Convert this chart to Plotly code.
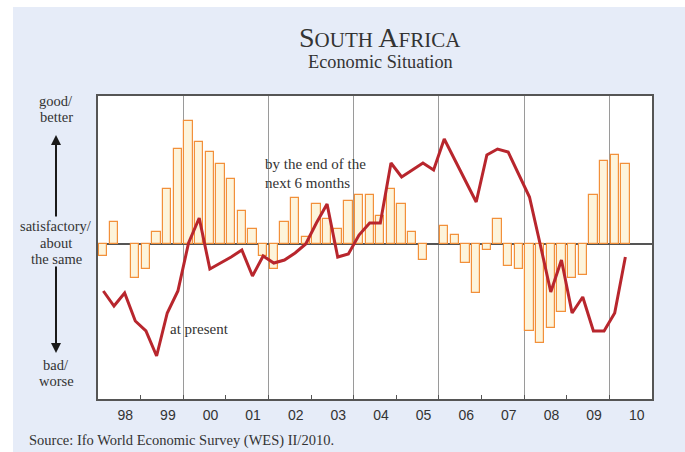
import plotly.graph_objects as go

# Quarterly survey balances, 1998Q1 - 2010Q2
years = list(range(1998, 2011))
year_labels = ["98", "99", "00", "01", "02", "03", "04", "05", "06", "07", "08", "09", "10"]

# Expectations for the next 6 months (bars)
expectations = [
    -12, 22, None, -34,
    -25, 12, 55, 95,
    123, 102, 92, 80,
    65, 33, 15, -12,
    -25, 22, 46, 7,
    40, 25, 15, 43,
    49, 49, 28, 55,
    40, 12, -16, None,
    18, 9, -19, -49,
    -6, 25, -22, -25,
    -87, -99, -84, -68,
    -34, -31, 49, 83,
    89, 80,
]

# Assessment of the present situation (line)
present = [
    -47, -62, -49, -77,
    -87, -112, -69, -47,
    1, 26, -25, -19,
    -13, -6, -32, -12,
    -19, -16, -9, 0,
    21, 40, -13, -10,
    9, 21, 21, 81,
    67, 74, 81, 74,
    105, 84, 63, 42,
    89, 95, 92, 69,
    47, 0, -48, -16,
    -69, -53, -87, -87,
    -69, -13,
]

quarter_x = [1998 + (i + 0.5) / 4 for i in range(len(present))]

W, H = 685, 452
L, R, T, B = 98, 652, 96, 399


def px(xp):
    return (xp - L) / (R - L)


def py(yp):
    return (B - yp) / (B - T)


SERIF = "Liberation Serif"
SANS = "Liberation Sans"
TXT = "#333333"

fig = go.Figure()

fig.add_trace(go.Bar(
    x=quarter_x, y=expectations, width=0.195,
    marker=dict(color="#fdf4db", line=dict(color="#f2903a", width=1.2)),
    showlegend=False,
))

fig.add_trace(go.Scatter(
    x=quarter_x, y=present, mode="lines",
    line=dict(color="#b8262d", width=3),
    showlegend=False,
))

# invisible trace carrying the year labels axis
fig.add_trace(go.Scatter(x=[1998, 2011], y=[0, 0], xaxis="x2", mode="none",
                         showlegend=False, hoverinfo="skip"))


def note(text, x, y, size, xanchor="center", align="center"):
    return dict(text=text, x=px(x), y=py(y), xref="paper", yref="paper",
                xanchor=xanchor, yanchor="middle", align=align, showarrow=False,
                font=dict(family=SERIF, size=size, color=TXT))


def arrow(x, y_head, dy_tail):
    return dict(text="", x=px(x), y=py(y_head), xref="paper", yref="paper", showarrow=True,
                ax=0, ay=dy_tail, arrowhead=2, arrowsize=1, arrowwidth=2, arrowcolor="#1a1a1a")


annotations = [
    note("S<span style='font-size:21px'>OUTH</span> A<span style='font-size:21px'>FRICA</span>",
         380, 38, 28),
    note("Economic Situation", 380, 62, 18.3),
    # scale captions beside the vertical axis
    note("good/", 56, 101, 14.5),
    note("better", 56, 117, 14.5),
    note("satisfactory/", 56, 226, 14.5),
    note("about", 56, 243, 14.5),
    note("the same", 56, 259, 14.5),
    note("bad/", 56, 365, 14.5),
    note("worse", 56, 381, 14.5),
    arrow(56, 135, 83),
    arrow(56, 353, -88),
    note("by the end of the", 263, 164, 15, xanchor="left", align="left"),
    note("next 6 months", 263, 183, 15, xanchor="left", align="left"),
    note("at present", 168, 329, 15, xanchor="left", align="left"),
    note("Source: Ifo World Economic Survey (WES) II/2010.", 27, 440, 14.5,
         xanchor="left", align="left"),
]

shapes = [
    # white page edges around the tinted panel
    dict(type="rect", xref="paper", yref="paper", x0=px(0), x1=px(13), y0=py(H), y1=py(0),
         fillcolor="white", line=dict(width=0), layer="above"),
    dict(type="rect", xref="paper", yref="paper", x0=px(0), x1=px(W), y0=py(7), y1=py(0),
         fillcolor="white", line=dict(width=0), layer="above"),
]

fig.update_layout(
    width=W, height=H,
    margin=dict(l=L, r=W - R, t=T, b=H - B),
    paper_bgcolor="#e6ecf8",
    plot_bgcolor="white",
    bargap=0,
    annotations=annotations,
    shapes=shapes,
    xaxis=dict(
        range=[1998, 2011],
        tickvals=list(range(2000, 2011, 2)),
        showticklabels=False,
        showgrid=True, gridcolor="#9a9a9a", gridwidth=1,
        ticks="inside", ticklen=4, tickcolor="#555555",
        minor=dict(tickvals=list(range(1999, 2011, 2)), ticks="inside", ticklen=4,
                   tickcolor="#555555", showgrid=False),
        showline=True, linecolor="#555555", linewidth=1.5, mirror=True,
        zeroline=False,
    ),
    xaxis2=dict(
        range=[1998, 2011], overlaying="x", side="bottom", anchor="y",
        tickvals=[y + 0.64 for y in years], ticktext=year_labels,
        ticks="outside", ticklen=3, tickcolor="rgba(0,0,0,0)",
        tickfont=dict(family=SANS, size=14, color=TXT),
        showgrid=False, showline=False, zeroline=False,
    ),
    yaxis=dict(
        range=[-155, 148],
        showticklabels=False, showgrid=False, ticks="",
        zeroline=True, zerolinecolor="#555555", zerolinewidth=1.5,
        showline=True, linecolor="#555555", linewidth=1.5, mirror=True,
    ),
)

fig.write_html("out.html")
